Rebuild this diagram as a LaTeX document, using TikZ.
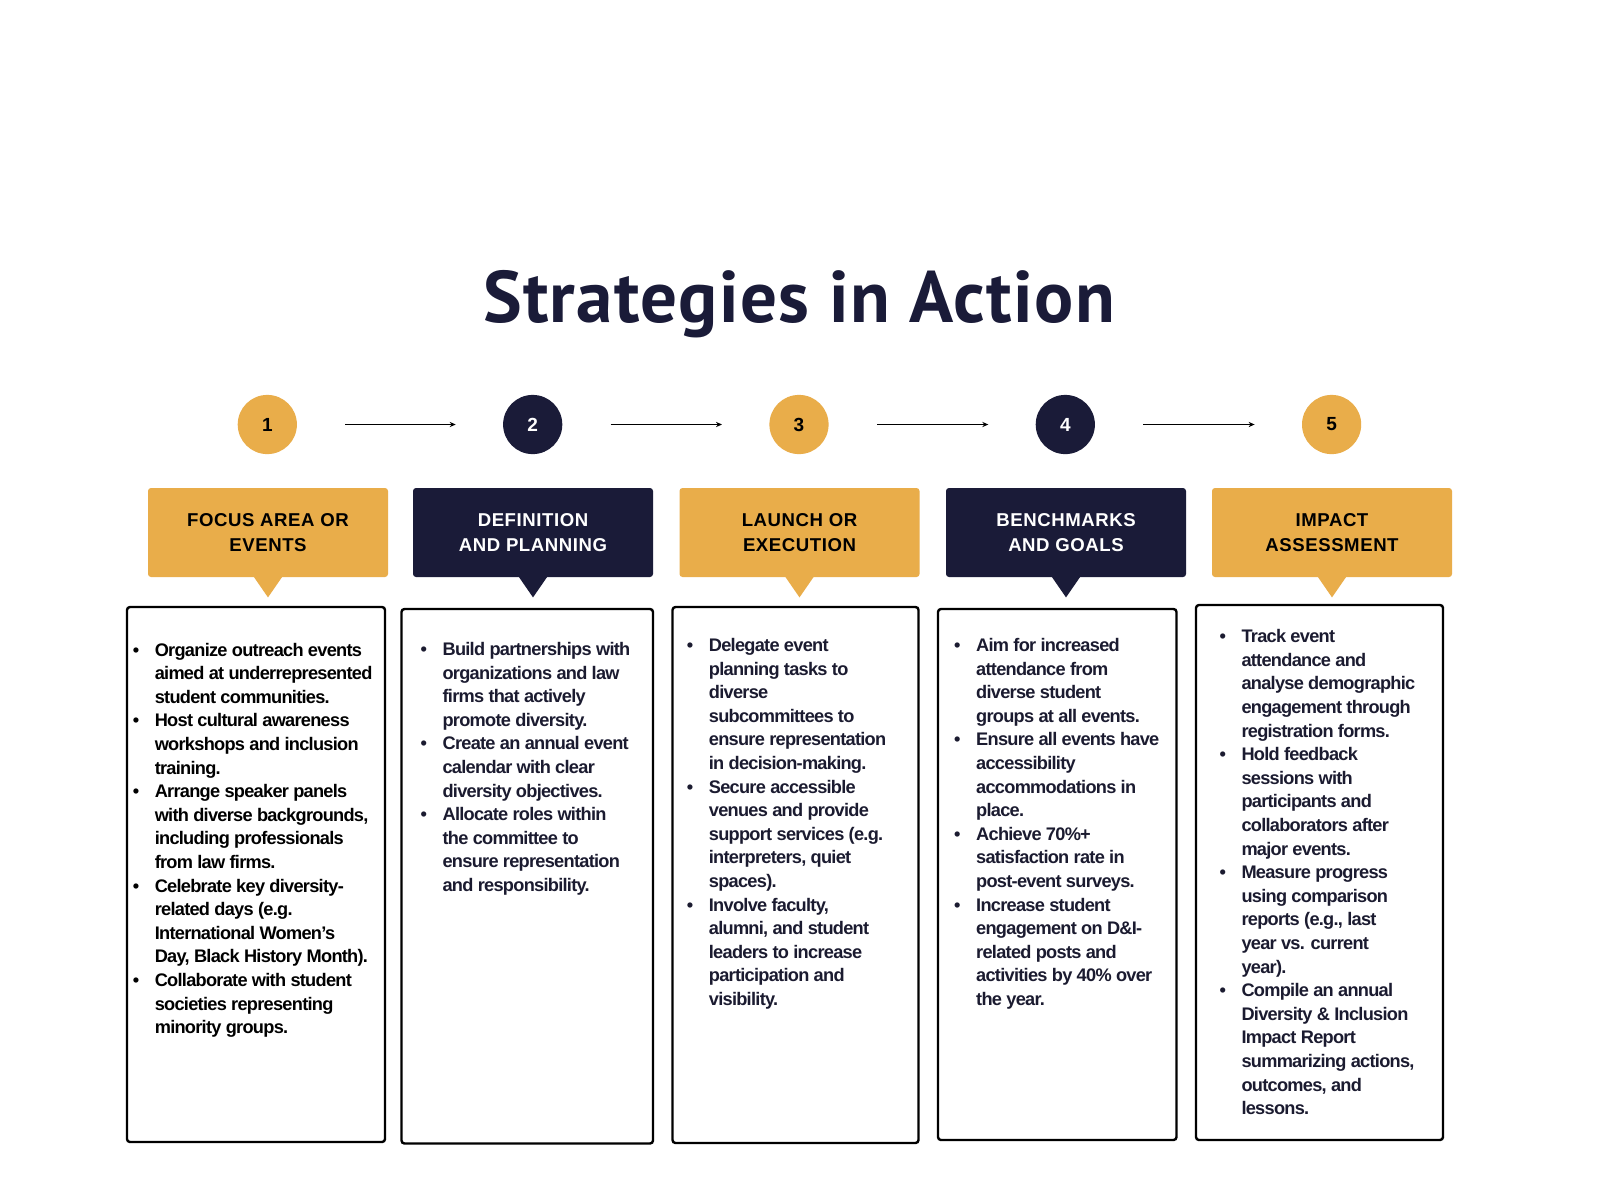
\documentclass[tikz,border=0pt]{standalone}
\usepackage{fontspec}
\setmainfont{Liberation Sans}
\newfontfamily\titlefont[LetterSpace=1.8]{PT Sans}
\newfontfamily\cardfont[LetterSpace=-4]{Liberation Sans}
\newfontfamily\headfont[LetterSpace=3]{Liberation Sans}
\usetikzlibrary{arrows.meta}
\definecolor{gold}{HTML}{E9AD4A}
\definecolor{navy}{HTML}{1A1B38}
\definecolor{ink}{HTML}{1B1B30}
\newcommand{\cardlist}[1]{\begin{tabular}[t]{@{}p{11pt}@{}l@{}}#1\end{tabular}}

\begin{document}
\begin{tikzpicture}[x=0.5pt,y=-0.5pt,>=Stealth,step circle/.style={circle, minimum size=29.6pt, inner sep=0pt, font=\bfseries\fontsize{9.5}{11}\selectfont},flow/.style={->, line width=0.7pt, shorten <=24pt, shorten >=23.5pt, -{Stealth[length=3pt,width=2.6pt]}},head box/.style={rounded corners=1.5pt, minimum width=120pt, minimum height=44.5pt, inner sep=0pt, align=center, font=\headfont\bfseries\fontsize{9.3}{12.25}\selectfont},card box/.style={draw=black, line width=1.2pt, rounded corners=1.5pt},card text/.style={anchor=base west, inner sep=0pt, text=ink, font=\cardfont\bfseries\fontsize{9.1}{11.8}\selectfont}]
\useasboundingbox (0,0) rectangle (1600,1200);
\fill[white] (0,0) rectangle (1600,1200);
\node[text=navy, font=\titlefont\bfseries\fontsize{36.5}{40}\selectfont, anchor=base] (title) at (799,322) {Strategies in Action};
\node[step circle, fill=gold, text=black] (c1) at (267.3,424.5) {1};
\node[step circle, fill=navy, text=white] (c2) at (532.7,424.5) {2};
\node[step circle, fill=gold, text=black] (c3) at (799,424.5) {3};
\node[step circle, fill=navy, text=white] (c4) at (1065.3,424.5) {4};
\node[step circle, fill=gold, text=black] (c5) at (1331.6,424.5) {5};
\draw[flow] (c1) -- (c2); \draw[flow] (c2) -- (c3); \draw[flow] (c3) -- (c4); \draw[flow] (c4) -- (c5);
\node[head box, fill=gold, text=black] (h1) at (268,532.5) {FOCUS AREA OR\\EVENTS};
\node[head box, fill=navy, text=white] (h2) at (533,532.5) {DEFINITION\\AND PLANNING};
\node[head box, fill=gold, text=black] (h3) at (799.5,532.5) {LAUNCH OR\\EXECUTION};
\node[head box, fill=navy, text=white] (h4) at (1066,532.5) {BENCHMARKS\\AND GOALS};
\node[head box, fill=gold, text=black] (h5) at (1332,532.5) {IMPACT\\ASSESSMENT};
\fill[gold] ([xshift=-7.25pt,yshift=0.5pt]h1.south) -- ([xshift=7.25pt,yshift=0.5pt]h1.south) -- ([yshift=-10pt]h1.south) -- cycle;
\fill[navy] ([xshift=-7.25pt,yshift=0.5pt]h2.south) -- ([xshift=7.25pt,yshift=0.5pt]h2.south) -- ([yshift=-10pt]h2.south) -- cycle;
\fill[gold] ([xshift=-7.25pt,yshift=0.5pt]h3.south) -- ([xshift=7.25pt,yshift=0.5pt]h3.south) -- ([yshift=-10pt]h3.south) -- cycle;
\fill[navy] ([xshift=-7.25pt,yshift=0.5pt]h4.south) -- ([xshift=7.25pt,yshift=0.5pt]h4.south) -- ([yshift=-10pt]h4.south) -- cycle;
\fill[gold] ([xshift=-7.25pt,yshift=0.5pt]h5.south) -- ([xshift=7.25pt,yshift=0.5pt]h5.south) -- ([yshift=-10pt]h5.south) -- cycle;
\draw[card box] (127,607) rectangle (385,1142);
\draw[card box] (401.5,609) rectangle (653,1143.5);
\draw[card box] (672.5,607) rectangle (918.5,1143);
\draw[card box] (938,609) rectangle (1176.5,1140);
\draw[card box] (1196,605) rectangle (1443,1140);
\node[card text, text=black] (t1) at (132.4,656) {\cardlist{\textbullet & Organize outreach events\\ & aimed at underrepresented\\ & student communities.\\ \textbullet & Host cultural awareness\\ & workshops and inclusion\\ & training.\\ \textbullet & Arrange speaker panels\\ & with diverse backgrounds,\\ & including professionals\\ & from law firms.\\ \textbullet & Celebrate key diversity-\\ & related days (e.g.\\ & International Women’s\\ & Day, Black History Month).\\ \textbullet & Collaborate with student\\ & societies representing\\ & minority groups.}};
\node[card text] (t2) at (420.2,655.5) {\cardlist{\textbullet & Build partnerships with\\ & organizations and law\\ & firms that actively\\ & promote diversity.\\ \textbullet & Create an annual event\\ & calendar with clear\\ & diversity objectives.\\ \textbullet & Allocate roles within\\ & the committee to\\ & ensure representation\\ & and responsibility.}};
\node[card text] (t3) at (686.5,651.5) {\cardlist{\textbullet & Delegate event\\ & planning tasks to\\ & diverse\\ & subcommittees to\\ & ensure representation\\ & in decision-making.\\ \textbullet & Secure accessible\\ & venues and provide\\ & support services (e.g.\\ & interpreters, quiet\\ & spaces).\\ \textbullet & Involve faculty,\\ & alumni, and student\\ & leaders to increase\\ & participation and\\ & visibility.}};
\node[card text] (t4) at (953.8,651.5) {\cardlist{\textbullet & Aim for increased\\ & attendance from\\ & diverse student\\ & groups at all events.\\ \textbullet & Ensure all events have\\ & accessibility\\ & accommodations in\\ & place.\\ \textbullet & Achieve 70\%+\\ & satisfaction rate in\\ & post-event surveys.\\ \textbullet & Increase student\\ & engagement on D\&I-\\ & related posts and\\ & activities by 40\% over\\ & the year.}};
\node[card text] (t5) at (1219.1,642.7) {\cardlist{\textbullet & Track event\\ & attendance and\\ & analyse demographic\\ & engagement through\\ & registration forms.\\ \textbullet & Hold feedback\\ & sessions with\\ & participants and\\ & collaborators after\\ & major events.\\ \textbullet & Measure progress\\ & using comparison\\ & reports (e.g., last\\ & year vs. current\\ & year).\\ \textbullet & Compile an annual\\ & Diversity \& Inclusion\\ & Impact Report\\ & summarizing actions,\\ & outcomes, and\\ & lessons.}};
\end{tikzpicture}
\end{document}
